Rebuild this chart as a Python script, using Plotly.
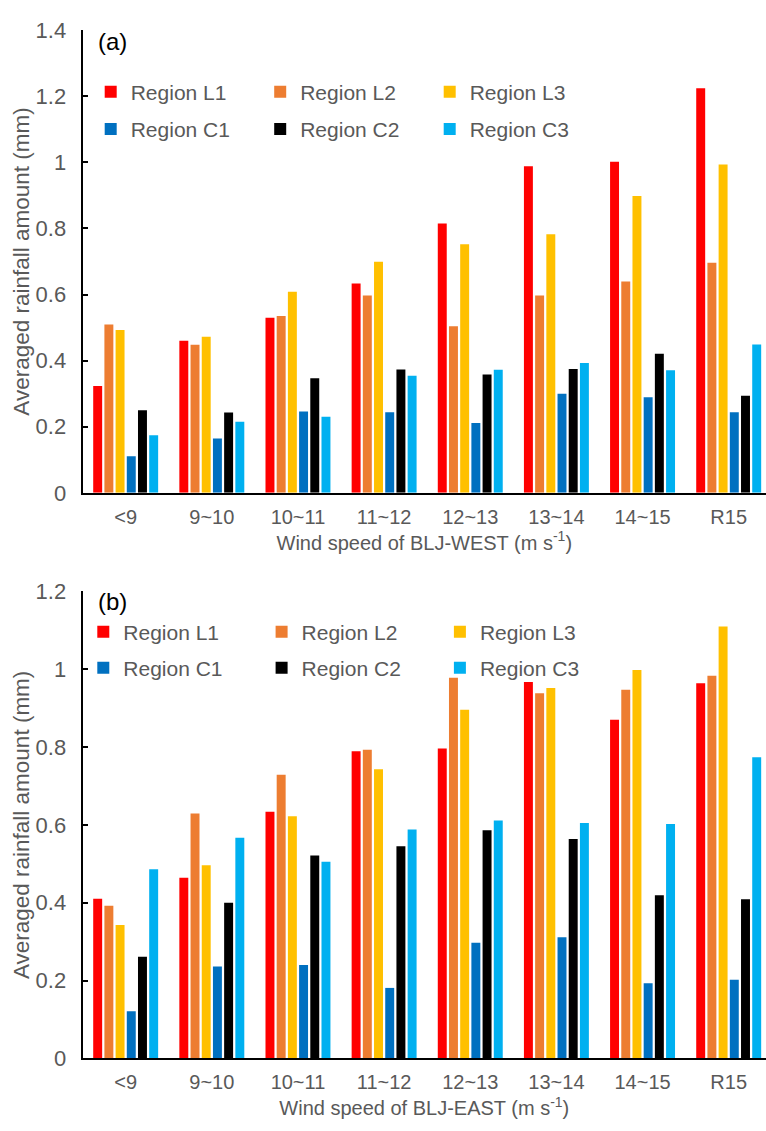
import plotly.graph_objects as go

categories = ["<9", "9~10", "10~11", "11~12", "12~13", "13~14", "14~15", "R15"]
region_names = ["Region L1", "Region L2", "Region L3", "Region C1", "Region C2", "Region C3"]
region_colors = ["#FF0000", "#ED7D31", "#FFC000", "#0070C0", "#000000", "#00B0F0"]

# Panel (a): BLJ-WEST
west_L1 = [0.323, 0.460, 0.530, 0.633, 0.815, 0.988, 1.002, 1.224]
west_L2 = [0.509, 0.448, 0.535, 0.597, 0.504, 0.597, 0.639, 0.696]
west_L3 = [0.493, 0.472, 0.608, 0.699, 0.752, 0.782, 0.898, 0.993]
west_C1 = [0.111, 0.164, 0.246, 0.244, 0.211, 0.300, 0.289, 0.244]
west_C2 = [0.250, 0.243, 0.347, 0.373, 0.358, 0.375, 0.421, 0.294]
west_C3 = [0.174, 0.215, 0.230, 0.354, 0.372, 0.393, 0.371, 0.449]

# Panel (b): BLJ-EAST
east_L1 = [0.410, 0.464, 0.634, 0.789, 0.796, 0.967, 0.870, 0.964]
east_L2 = [0.392, 0.629, 0.729, 0.793, 0.978, 0.938, 0.947, 0.983]
east_L3 = [0.343, 0.496, 0.622, 0.743, 0.896, 0.952, 0.998, 1.110]
east_C1 = [0.121, 0.236, 0.240, 0.181, 0.297, 0.311, 0.193, 0.202]
east_C2 = [0.261, 0.400, 0.521, 0.545, 0.586, 0.564, 0.419, 0.409]
east_C3 = [0.486, 0.567, 0.505, 0.588, 0.611, 0.605, 0.602, 0.774]

west = [west_L1, west_L2, west_L3, west_C1, west_C2, west_C3]
east = [east_L1, east_L2, east_L3, east_C1, east_C2, east_C3]

W, H = 766, 1131
FONT = "Liberation Sans, Arial, sans-serif"
GREY = "#595959"

fig = go.Figure()
for i, (name, col) in enumerate(zip(region_names, region_colors)):
    fig.add_trace(go.Bar(x=categories, y=west[i], name=name, marker=dict(color=col, line=dict(width=0)),
                         xaxis="x", yaxis="y", legend="legend" if i < 3 else "legend2"))
for i, (name, col) in enumerate(zip(region_names, region_colors)):
    fig.add_trace(go.Bar(x=categories, y=east[i], name=name, marker=dict(color=col, line=dict(width=0)),
                         xaxis="x2", yaxis="y2", legend="legend3" if i < 3 else "legend4"))

x0 = 82.6 / W
common_x = dict(domain=[x0, 1], range=[-0.5, 7.433], showline=True, linecolor="black", linewidth=2,
                ticks="", showgrid=False, zeroline=False, tickfont=dict(family=FONT, size=20, color=GREY),
                ticklabelstandoff=5, title_font=dict(family=FONT, size=20, color=GREY))
common_y = dict(showline=True, linecolor="black", linewidth=2, ticks="inside", ticklen=5, tickwidth=2,
                tickcolor="black", showgrid=False, zeroline=False, dtick=0.2,
                tickfont=dict(family=FONT, size=22, color=GREY), ticklabelstandoff=10,
                title_font=dict(family=FONT, size=22.5, color=GREY))

def leg(xpx, ypx, ew):
    return dict(orientation="h", x=xpx / W, y=1 - ypx / H, xanchor="left", yanchor="middle",
                entrywidth=ew, entrywidthmode="pixels", bgcolor="rgba(0,0,0,0)",
                font=dict(family=FONT, size=21, color=GREY), traceorder="normal")

fig.update_layout(
    width=W, height=H, margin=dict(l=0, r=0, t=0, b=0),
    paper_bgcolor="white", plot_bgcolor="white",
    barmode="group", bargap=0.22, bargroupgap=0.2,
    xaxis=dict(common_x, anchor="y", title=dict(text="Wind speed of BLJ-WEST (m s<sup>-1</sup>)", standoff=9)),
    yaxis=dict(common_y, domain=[1 - 491.7 / H, 1 - 18.5 / H], range=[0, 1.4], anchor="x",
               title=dict(text="Averaged rainfall amount (mm)", standoff=0)),
    xaxis2=dict(common_x, anchor="y2", title=dict(text="Wind speed of BLJ-EAST (m s<sup>-1</sup>)", standoff=9)),
    yaxis2=dict(common_y, domain=[1 - 1070 / H, 1 - 592.5 / H], range=[0, 1.2], anchor="x2",
                title=dict(text="Averaged rainfall amount (mm)", standoff=0)),
    legend=leg(90.7, 82, 124.5),
    legend2=leg(90.7, 120, 124.5),
    legend3=leg(83.3, 634, 133.3),
    legend4=leg(83.3, 671, 133.3),
    annotations=[
        dict(text="(a)", x=96 / W, y=1 - 30 / H, xref="paper", yref="paper", xanchor="left", yanchor="middle",
             showarrow=False, font=dict(family=FONT, size=24, color="black")),
        dict(text="(b)", x=96 / W, y=1 - 603 / H, xref="paper", yref="paper", xanchor="left", yanchor="middle",
             showarrow=False, font=dict(family=FONT, size=24, color="black")),
    ],
)

fig.write_html("out.html", config={"displayModeBar": False},
               post_script="document.body.style.margin='0';")
